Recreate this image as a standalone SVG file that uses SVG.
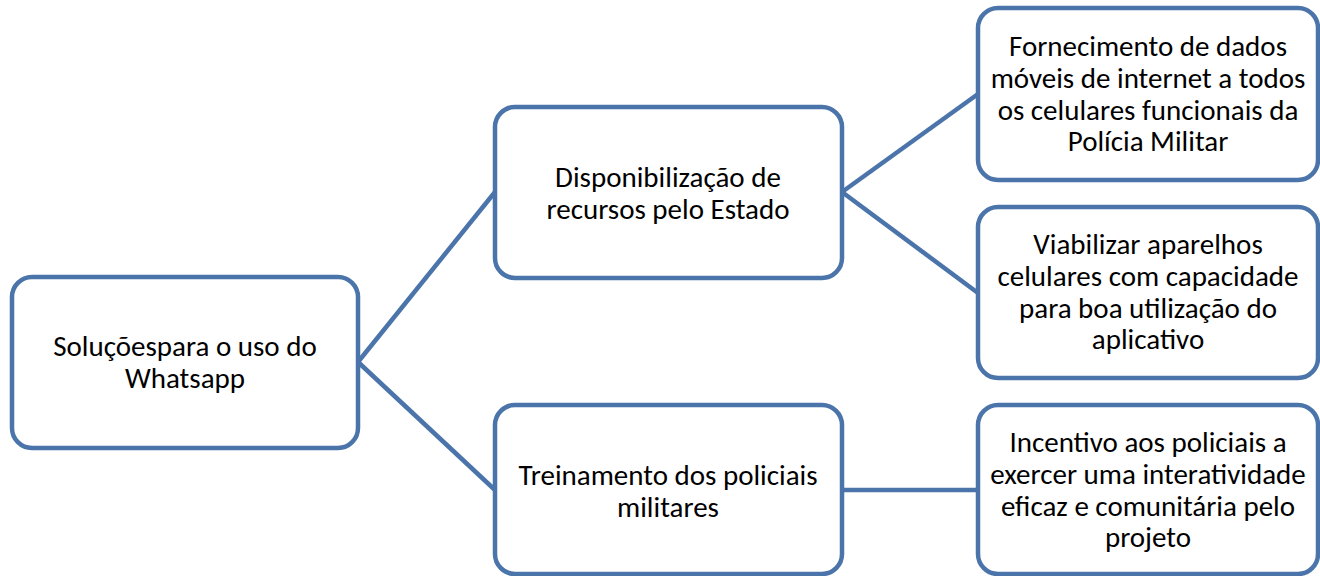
<svg xmlns="http://www.w3.org/2000/svg" width="1320" height="576" viewBox="0 0 1320 576">
<style>
.box{fill:#ffffff;stroke:#4A74AA;stroke-width:4.5}
.con{stroke:#4A74AA;stroke-width:4.5;fill:none}
.t{font-family:Calibri,Carlito,"Liberation Sans",Arial,sans-serif;font-size:29px;fill:#000000;text-anchor:middle}
</style>
<rect width="1320" height="576" fill="#ffffff"/>
<g id="connectors">
<line class="con" x1="358" y1="362" x2="495" y2="192"/>
<line class="con" x1="358" y1="362" x2="495" y2="490"/>
<line class="con" x1="842" y1="192" x2="978" y2="94"/>
<line class="con" x1="842" y1="192" x2="978" y2="293"/>
<line class="con" x1="842" y1="490" x2="978" y2="490"/>
</g>
<g id="n_root">
<rect class="box" x="12" y="277" width="346" height="171" rx="20"/>
<text class="t" x="185" y="356">Soluçõespara o uso do</text>
<text class="t" x="185" y="388">Whatsapp</text>
</g>
<g id="n_recursos">
<rect class="box" x="495" y="107" width="347" height="171" rx="20"/>
<text class="t" x="668" y="187">Disponibilização de</text>
<text class="t" x="668" y="219">recursos pelo Estado</text>
</g>
<g id="n_treinamento">
<rect class="box" x="495" y="405" width="347" height="169" rx="20"/>
<text class="t" x="668" y="485">Treinamento dos policiais</text>
<text class="t" x="668" y="517">militares</text>
</g>
<g id="n_dados">
<rect class="box" x="978" y="8" width="340" height="172" rx="20"/>
<text class="t" x="1148" y="56">Fornecimento de dados</text>
<text class="t" x="1148" y="88">móveis de internet a todos</text>
<text class="t" x="1148" y="119.5">os celulares funcionais da</text>
<text class="t" x="1148" y="151">Polícia Militar</text>
</g>
<g id="n_aparelhos">
<rect class="box" x="978" y="207" width="340" height="171" rx="20"/>
<text class="t" x="1148" y="254">Viabilizar aparelhos</text>
<text class="t" x="1148" y="286">celulares com capacidade</text>
<text class="t" x="1148" y="318">para boa utilização do</text>
<text class="t" x="1148" y="349">aplicativo</text>
</g>
<g id="n_incentivo">
<rect class="box" x="978" y="405" width="340" height="169" rx="20"/>
<text class="t" x="1148" y="452">Incentivo aos policiais a</text>
<text class="t" x="1148" y="484">exercer uma interatividade</text>
<text class="t" x="1148" y="516">eficaz e comunitária pelo</text>
<text class="t" x="1148" y="547">projeto</text>
</g>
</svg>
